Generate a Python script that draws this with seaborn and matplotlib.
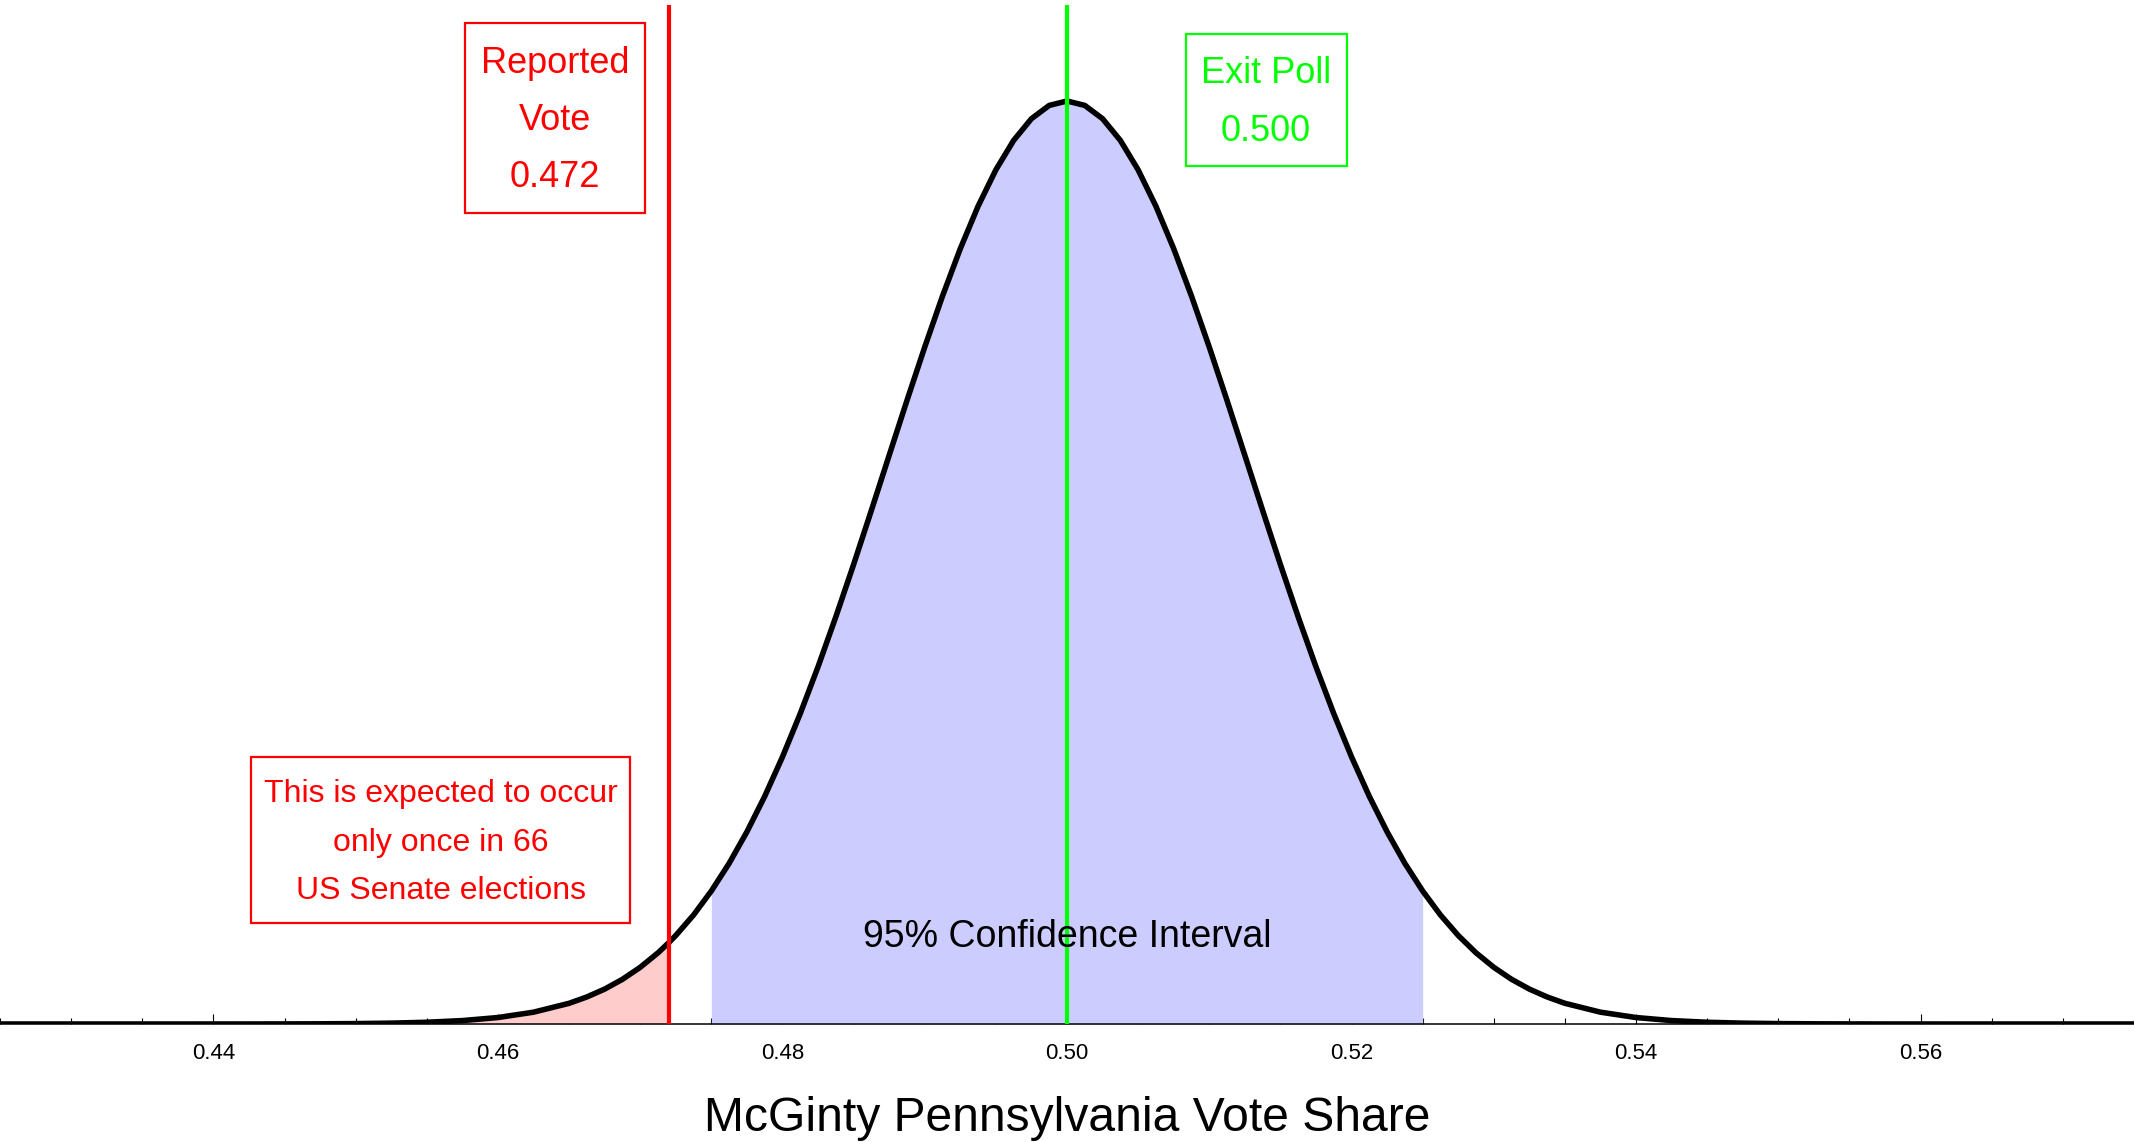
import numpy as np
import pandas as pd
import matplotlib
matplotlib.use('Agg')
import matplotlib.pyplot as plt
from matplotlib.patches import Rectangle
import seaborn as sns

# Curva de la distribucion (altura relativa al pico)
curva_x = [0.425, 0.4275, 0.43, 0.4325, 0.435, 0.4375, 0.44, 0.4425, 0.445, 0.4475,
           0.45, 0.4525, 0.455, 0.4575, 0.46, 0.4625, 0.465, 0.46625, 0.4675, 0.46875,
           0.47, 0.47125, 0.472, 0.4725, 0.47375, 0.475, 0.47625, 0.4775, 0.47875, 0.48,
           0.48125, 0.4825, 0.48375, 0.485, 0.48625, 0.4875, 0.48875, 0.49, 0.49125, 0.4925,
           0.49375, 0.495, 0.49625, 0.4975, 0.49875, 0.5,
           0.50125, 0.5025, 0.50375, 0.505, 0.50625, 0.5075, 0.50875, 0.51, 0.51125, 0.5125,
           0.51375, 0.515, 0.51625, 0.5175, 0.51875, 0.52, 0.52125, 0.5225, 0.52375, 0.525,
           0.52625, 0.5275, 0.52875, 0.53, 0.53125, 0.5325, 0.53375, 0.535, 0.5375, 0.54,
           0.5425, 0.545, 0.5475, 0.55, 0.5525, 0.555, 0.5575, 0.56, 0.5625, 0.565,
           0.5675, 0.57, 0.5725, 0.575]
curva_y = [0.0, 0.0, 0.0, 0.0, 0.000002, 0.000006, 0.000014, 0.000035, 0.000085, 0.000195,
           0.00043, 0.00092, 0.00188, 0.0037, 0.0070, 0.0128, 0.0224, 0.0293, 0.0378, 0.0484,
           0.0614, 0.0771, 0.0880, 0.0959, 0.1181, 0.1441, 0.1740, 0.2082, 0.2466, 0.2894,
           0.3363, 0.3870, 0.4411, 0.4978, 0.5565, 0.6161, 0.6755, 0.7334, 0.7887, 0.8400,
           0.8860, 0.9254, 0.9573, 0.9808, 0.9952, 1.0,
           0.9952, 0.9808, 0.9573, 0.9254, 0.8860, 0.8400, 0.7887, 0.7334, 0.6755, 0.6161,
           0.5565, 0.4978, 0.4411, 0.3870, 0.3363, 0.2894, 0.2466, 0.2082, 0.1740, 0.1441,
           0.1181, 0.0959, 0.0771, 0.0614, 0.0484, 0.0378, 0.0293, 0.0224, 0.0128, 0.0070,
           0.0037, 0.00188, 0.00092, 0.00043, 0.000195, 0.000085, 0.000035, 0.000014, 0.000006, 0.000002,
           0.0, 0.0, 0.0, 0.0]

voto_reportado = 0.472
encuesta_salida = 0.500
intervalo = [0.475, 0.525]
ticks_mayores = [0.44, 0.46, 0.48, 0.50, 0.52, 0.54, 0.56]
etiquetas_ticks = ['0.44', '0.46', '0.48', '0.50', '0.52', '0.54', '0.56']

texto_reportado = ['Reported', 'Vote', '0.472']
texto_encuesta = ['Exit Poll', '0.500']
texto_nota = ['This is expected to occur', 'only once in 66', 'US Senate elections']

ROJO = '#FF0000'
VERDE = '#00FF00'

sns.set_theme(style='white')
plt.rcParams['font.family'] = ['Liberation Sans', 'DejaVu Sans']

df = pd.DataFrame({'x': curva_x, 'y': curva_y})
xs = np.array(curva_x)
ys = np.array(curva_y)

fig = plt.figure(figsize=(21.34, 11.42), dpi=100)
ax = fig.add_axes([0, 0.10333, 1, 0.89229])

# Relleno de la cola izquierda y del intervalo de confianza
cola = xs <= voto_reportado
ax.fill_between(xs[cola], 0, ys[cola], color='#FFCCCC', lw=0, zorder=1)
dentro = (xs >= intervalo[0]) & (xs <= intervalo[1])
ax.fill_between(xs[dentro], 0, ys[dentro], color='#CCCCFF', lw=0, zorder=1)

sns.lineplot(data=df, x='x', y='y', ax=ax, color='black', lw=4.0, zorder=3)

ax.axvline(voto_reportado, color=ROJO, lw=3.0, zorder=4)
ax.axvline(encuesta_salida, color=VERDE, lw=3.0, zorder=4)

ax.set_xlim(0.425, 0.575)
ax.set_ylim(0, 1.104)


def caja(x0, x1, y0, y1, lineas, xc, bases, color, size):
    ax.add_patch(Rectangle((x0, y1), x1 - x0, y0 - y1, fill=False, edgecolor=color,
                           lw=1.6, zorder=5, clip_on=False))
    for t, yb in zip(lineas, bases):
        ax.text(xc, yb, t, color=color, fontsize=size, ha='center', va='baseline', zorder=6)


caja(0.45767, 0.47032, 1.0845, 0.8787, texto_reportado, 0.464, [1.0307, 0.9686, 0.9072], ROJO, 26)
caja(0.50835, 0.51967, 1.0723, 0.9299, texto_encuesta, 0.51399, [1.0195, 0.9570], VERDE, 26)
caja(0.44267, 0.46931, 0.2896, 0.1098, texto_nota, 0.45598, [0.2408, 0.1878, 0.1351], ROJO, 23)

ax.text(0.5, 0.0834, '95% Confidence Interval', color='black', fontsize=27,
        ha='center', va='baseline', zorder=6)

# Ejes
ax.set_xticks(ticks_mayores)
ax.set_xticklabels(etiquetas_ticks)
ax.set_xticks(np.arange(0.425, 0.5751, 0.005), minor=True)
ax.tick_params(axis='x', which='major', direction='in', length=7.2, width=0.8,
               color='black', labelcolor='black', labelsize=16, pad=14, bottom=True)
ax.tick_params(axis='x', which='minor', direction='in', length=4.3, width=0.8,
               color='black', bottom=True)
ax.set_yticks([])
ax.set_ylabel('')
for lado in ['top', 'left', 'right']:
    ax.spines[lado].set_visible(False)
ax.spines['bottom'].set_color('black')
ax.spines['bottom'].set_linewidth(1.1)

ax.set_xlabel('McGinty Pennsylvania Vote Share', fontsize=34.6, color='black')
ax.xaxis.label.set_va('baseline')
ax.xaxis.set_label_coords(0.5, -0.105)

fig.savefig('out.png', dpi=100, facecolor='white')
